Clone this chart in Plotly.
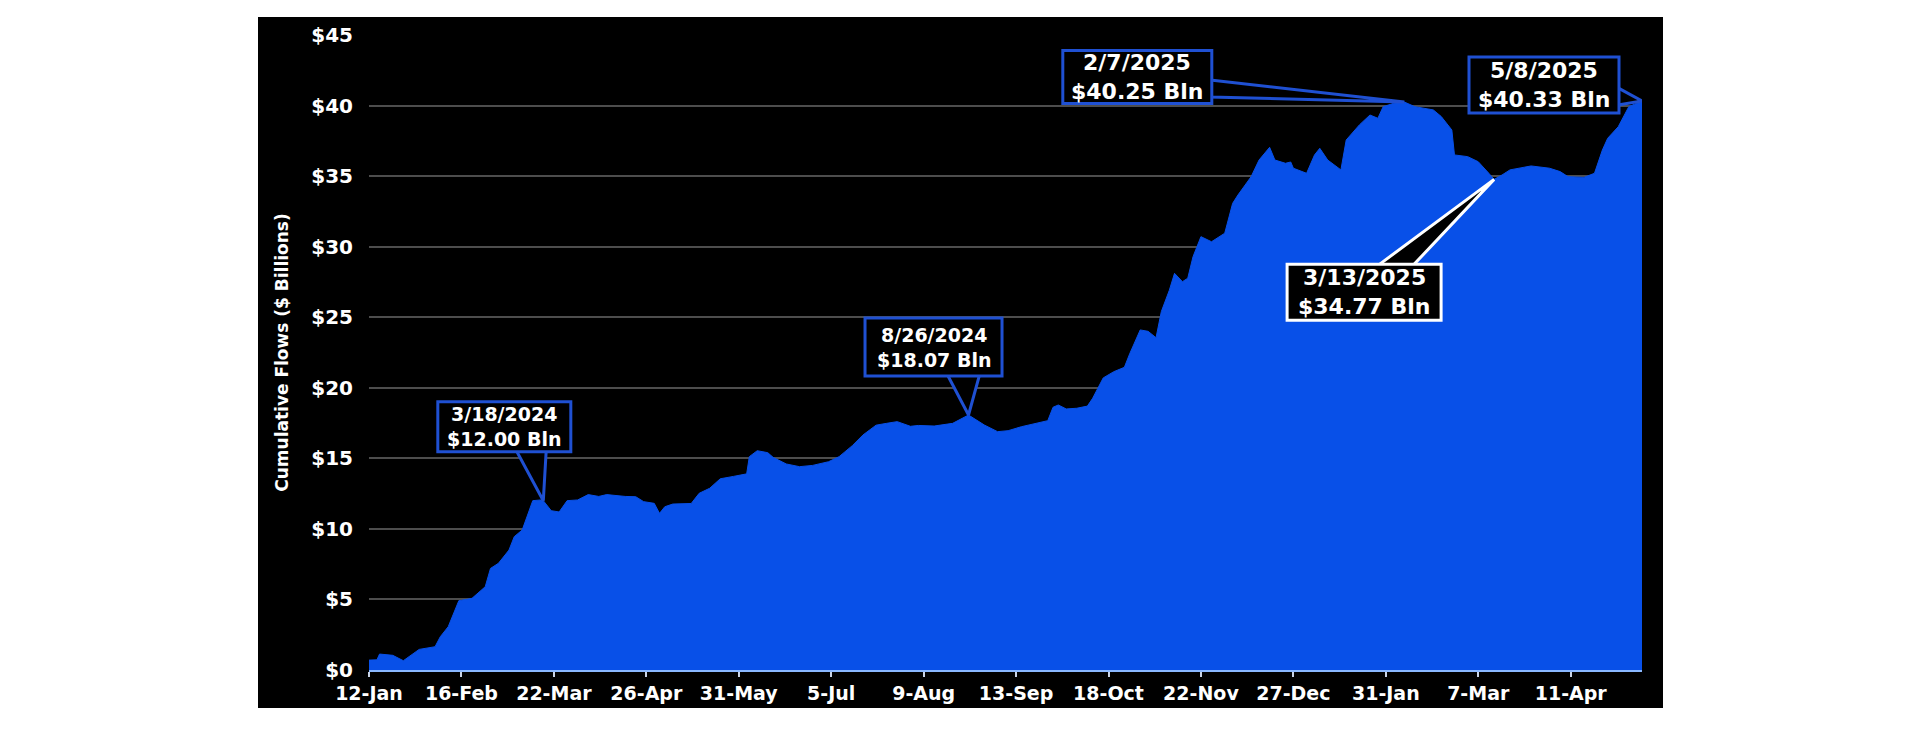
import plotly.graph_objects as go
import pandas as pd

# ---------------- data ----------------
dates = [
    "2024-01-12", "2024-01-15", "2024-01-16", "2024-01-21", "2024-01-25", "2024-01-29", "2024-01-31",
    "2024-02-06", "2024-02-08", "2024-02-11", "2024-02-15", "2024-02-20", "2024-02-25", "2024-02-27",
    "2024-03-01", "2024-03-05", "2024-03-07", "2024-03-10", "2024-03-13", "2024-03-14", "2024-03-17",
    "2024-03-18", "2024-03-21", "2024-03-24", "2024-03-27", "2024-03-31", "2024-04-04", "2024-04-08",
    "2024-04-11", "2024-04-18", "2024-04-22", "2024-04-25", "2024-04-29", "2024-05-01", "2024-05-03",
    "2024-05-06", "2024-05-13", "2024-05-16", "2024-05-20", "2024-05-24", "2024-05-29", "2024-06-03",
    "2024-06-04", "2024-06-07", "2024-06-11", "2024-06-13", "2024-06-18", "2024-06-23", "2024-06-28",
    "2024-07-04", "2024-07-08", "2024-07-13", "2024-07-17", "2024-07-22", "2024-07-26", "2024-07-30",
    "2024-08-04", "2024-08-07", "2024-08-13", "2024-08-20", "2024-08-26", "2024-09-01", "2024-09-06",
    "2024-09-10", "2024-09-15", "2024-09-20", "2024-09-25", "2024-09-27", "2024-09-29", "2024-10-02",
    "2024-10-06", "2024-10-10", "2024-10-12", "2024-10-16", "2024-10-20", "2024-10-24", "2024-10-26",
    "2024-10-30", "2024-11-02", "2024-11-05", "2024-11-07", "2024-11-10", "2024-11-12", "2024-11-15",
    "2024-11-17", "2024-11-19", "2024-11-22", "2024-11-26", "2024-12-01", "2024-12-04", "2024-12-06",
    "2024-12-11", "2024-12-14", "2024-12-18", "2024-12-20", "2024-12-24", "2024-12-26", "2024-12-27",
    "2025-01-01", "2025-01-04", "2025-01-06", "2025-01-09", "2025-01-14", "2025-01-16", "2025-01-21",
    "2025-01-25", "2025-01-28", "2025-01-30", "2025-02-03", "2025-02-07", "2025-02-11", "2025-02-18",
    "2025-02-21", "2025-02-25", "2025-02-26", "2025-03-03", "2025-03-07", "2025-03-11", "2025-03-13",
    "2025-03-16", "2025-03-19", "2025-03-27", "2025-04-03", "2025-04-07", "2025-04-10", "2025-04-16",
    "2025-04-20", "2025-04-23", "2025-04-25", "2025-04-29", "2025-05-03", "2025-05-08",
]
flows = [
    0.70, 0.72, 1.13, 1.04, 0.66, 1.23, 1.46,
    1.65, 2.36, 3.07, 4.91, 5.08, 5.90, 7.20,
    7.56, 8.50, 9.45, 9.92, 11.57, 12.00, 12.05,
    12.00, 11.29, 11.20, 12.00, 12.05, 12.43, 12.30,
    12.43, 12.30, 12.28, 11.93, 11.81, 11.10, 11.57,
    11.76, 11.80, 12.52, 12.88, 13.55, 13.72, 13.90,
    15.12, 15.54, 15.40, 15.07, 14.60, 14.41, 14.50,
    14.76, 15.12, 15.90, 16.65, 17.35, 17.48, 17.60,
    17.27, 17.33, 17.29, 17.48, 18.07, 17.36, 16.89,
    16.96, 17.24, 17.43, 17.67, 18.62, 18.78, 18.50,
    18.55, 18.70, 19.26, 20.70, 21.14, 21.45, 22.40,
    24.10, 24.00, 23.55, 25.40, 26.90, 28.11, 27.52,
    27.76, 29.29, 30.71, 30.35, 30.95, 33.07, 33.66,
    34.96, 36.14, 37.04, 36.14, 35.91, 36.00, 35.56,
    35.20, 36.50, 36.97, 36.14, 35.44, 37.56, 38.63,
    39.33, 39.10, 39.92, 40.16, 40.25, 39.92, 39.69,
    39.22, 38.27, 36.50, 36.38, 36.02, 35.20, 34.77,
    35.08, 35.44, 35.72, 35.56, 35.32, 34.96, 34.91,
    35.20, 36.85, 37.68, 38.50, 39.92, 40.33,
]

x_tick_dates = ["2024-01-12", "2024-02-16", "2024-03-22", "2024-04-26", "2024-05-31", "2024-07-05",
                "2024-08-09", "2024-09-13", "2024-10-18", "2024-11-22", "2024-12-27", "2025-01-31",
                "2025-03-07", "2025-04-11"]
x_tick_text = ["12-Jan", "16-Feb", "22-Mar", "26-Apr", "31-May", "5-Jul", "9-Aug", "13-Sep",
               "18-Oct", "22-Nov", "27-Dec", "31-Jan", "7-Mar", "11-Apr"]
y_tick_vals = [0, 5, 10, 15, 20, 25, 30, 35, 40, 45]
y_tick_text = ["$0", "$5", "$10", "$15", "$20", "$25", "$30", "$35", "$40", "$45"]

callout_dates = ["2024-03-18", "2024-08-26", "2025-02-07", "2025-03-13", "2025-05-08"]
callout_values = [12.00, 18.07, 40.25, 34.77, 40.33]
callout_date_text = ["3/18/2024", "8/26/2024", "2/7/2025", "3/13/2025", "5/8/2025"]

y_title = "Cumulative Flows ($ Billions)"

# ---------------- layout geometry / styles ----------------
W, H = 1920, 731
OFF = 8                      # page body offset of the plot div
ML, MT = 369 - OFF, 35 - OFF
PW, PH = 1273, 635
MR, MB = W - ML - PW, H - MT - PH
X_RANGE = [dates[0], dates[-1]]
Y_RANGE = [0, 45]

AREA_COLOR = "#0850e8"
BLUE_BORDER = "#1f50d2"
FONT = "DejaVu Sans"

# per callout: box centre offset (px, from point; dy screen-down), box size, font size,
# line offset from box centre, border colour, wedge base offsets (px, screen-down y)
callout_style = [
    dict(dx=-39, dy=-74, w=136, h=53, fs=19, lo=12.5, col=BLUE_BORDER, base=[(-28, -52), (3, -52)]),
    dict(dx=-35, dy=-68, w=140, h=61, fs=19, lo=12.5, col=BLUE_BORDER, base=[(-21, -40), (11, -40)]),
    dict(dx=-267, dy=-25, w=152, h=56, fs=22, lo=14.5, col=BLUE_BORDER, base=[(-194, -22), (-194, -5)]),
    dict(dx=-130, dy=113, w=157, h=59, fs=22, lo=14.5, col="#ffffff", base=[(-116, 86), (-81, 86)]),
    dict(dx=-98, dy=-16, w=153, h=59, fs=22, lo=14.5, col=BLUE_BORDER, base=[(-24, -13), (-24, 4)]),
]

t0 = pd.Timestamp(X_RANGE[0])
t1 = pd.Timestamp(X_RANGE[1])
px_per_ms = PW / ((t1 - t0) / pd.Timedelta(milliseconds=1))
px_per_unit = PH / (Y_RANGE[1] - Y_RANGE[0])


def offset_point(d, v, dx, dy):
    nd = pd.Timestamp(d) + pd.Timedelta(milliseconds=dx / px_per_ms)
    nv = v - dy / px_per_unit
    return nd.strftime("%Y-%m-%d %H:%M:%S"), nv


fig = go.Figure()

fig.add_trace(go.Scatter(
    x=dates, y=flows, mode="lines", fill="tozeroy",
    line=dict(color=AREA_COLOR, width=1), fillcolor=AREA_COLOR,
    hoverinfo="x+y", showlegend=False,
))

# black chart panel on white page (page px -> paper fraction)
shapes = [dict(
    type="rect", xref="paper", yref="paper", layer="below",
    x0=(258 - 369) / PW, x1=(1663 - 369) / PW,
    y0=(670 - 708) / PH, y1=(670 - 17) / PH,
    fillcolor="#000000", line=dict(width=0),
)]

annotations = []
for d, v, dt, st in zip(callout_dates, callout_values, callout_date_text, callout_style):
    # wedge pointer
    (bx1, by1), (bx2, by2) = st["base"]
    p1 = offset_point(d, v, bx1, by1)
    p2 = offset_point(d, v, bx2, by2)
    fig.add_trace(go.Scatter(
        x=[p1[0], d, p2[0], p1[0]], y=[p1[1], v, p2[1], p1[1]],
        mode="lines", fill="toself", fillcolor="#000000",
        line=dict(color=st["col"], width=3), hoverinfo="skip", showlegend=False,
    ))
    # label box, fixed pixel size anchored to the point
    cy = -st["dy"]
    shapes.append(dict(
        type="rect", xref="x", yref="y", layer="above",
        xsizemode="pixel", ysizemode="pixel", xanchor=d, yanchor=v,
        x0=st["dx"] - st["w"] / 2 + 1.5, x1=st["dx"] + st["w"] / 2 - 1.5,
        y0=cy - st["h"] / 2 + 1.5, y1=cy + st["h"] / 2 - 1.5,
        fillcolor="#000000", line=dict(color=st["col"], width=3),
    ))
    for txt, sh in ((dt, st["lo"]), (f"${v:.2f} Bln", -st["lo"])):
        annotations.append(dict(
            x=d, y=v, xref="x", yref="y", showarrow=False,
            xshift=st["dx"], yshift=cy + sh, xanchor="center", yanchor="middle",
            text=txt, borderpad=0,
            font=dict(family=FONT, size=st["fs"], color="#ffffff", weight="bold"),
        ))

fig.update_layout(
    width=W, height=H,
    margin=dict(l=ML, r=MR, t=MT, b=MB, pad=0),
    paper_bgcolor="#ffffff", plot_bgcolor="#000000",
    shapes=shapes, annotations=annotations,
    showlegend=False,
    font=dict(family=FONT, color="#ffffff"),
    xaxis=dict(
        type="date", range=X_RANGE, tickvals=x_tick_dates, ticktext=x_tick_text,
        showgrid=False, zeroline=False,
        showline=True, linecolor="#8ab8ff", linewidth=2,
        ticks="outside", ticklen=5, tickwidth=1.5, tickcolor="#c9d3e6",
        tickfont=dict(family=FONT, size=19, color="#ffffff", weight="bold"),
        fixedrange=True,
    ),
    yaxis=dict(
        range=Y_RANGE, tickvals=y_tick_vals, ticktext=y_tick_text,
        showgrid=True, gridcolor="#4d4d4d", gridwidth=1.5,
        zeroline=False, showline=False, ticks="",
        ticklabelstandoff=15,
        tickfont=dict(family=FONT, size=20, color="#ffffff", weight="bold"),
        title=dict(text=y_title, standoff=18,
                   font=dict(family=FONT, size=17, color="#ffffff", weight="bold")),
        fixedrange=True,
    ),
)

fig.write_html("out.html")
